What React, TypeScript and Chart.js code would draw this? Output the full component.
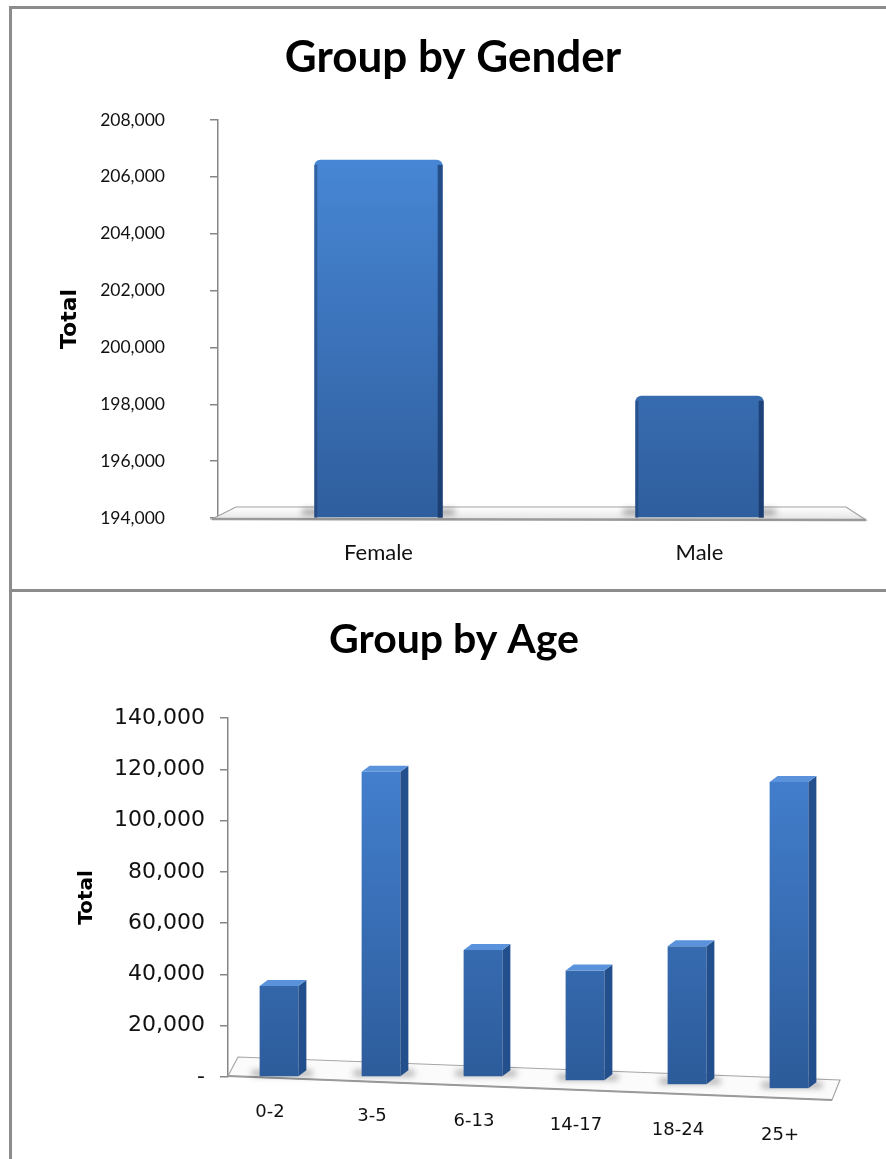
import React, { useEffect, useRef } from "react";
import { Chart, registerables } from "chart.js";

Chart.register(...registerables);

// ---------- data ----------
const GENDER_TITLE = "Group by Gender";
const GENDER_LABELS = ["Female", "Male"];
const GENDER_TOTALS = [206600, 198300];
const GENDER_Y_MIN = 194000;
const GENDER_Y_MAX = 208000;
const GENDER_Y_STEP = 2000;

const AGE_TITLE = "Group by Age";
const AGE_LABELS = ["0-2", "3-5", "6-13", "14-17", "18-24", "25+"];
const AGE_TOTALS = [35500, 119000, 49500, 41500, 51000, 115000];
const AGE_Y_MIN = 0;
const AGE_Y_MAX = 140000;
const AGE_Y_STEP = 20000;

const Y_TITLE = "Total";

// ---------- styles ----------
const AXIS_GRAY = "#868686";
const TEXT = "#111";
const AGE_TOP = "#4685d6";
const AGE_BOTTOM = "#2d5c9b";

function barGradient(c: any, top: string, bottom: string) {
  const chart = c.chart;
  const ca = chart.chartArea;
  if (!ca) return bottom;
  const g = chart.ctx.createLinearGradient(0, ca.top, 0, ca.bottom);
  g.addColorStop(0, top);
  g.addColorStop(1, bottom);
  return g;
}

const fmt = (v: any) => Number(v).toLocaleString("en-US");

// floor + bar decorations for the gender chart
const genderDeco = {
  id: "genderDeco",
  beforeDatasetsDraw(chart: any) {
    const { ctx, chartArea: ca } = chart;
    const b = ca.bottom;
    ctx.save();
    ctx.beginPath();
    ctx.moveTo(ca.left - 6, b + 1);
    ctx.lineTo(ca.left + 18, b - 11);
    ctx.lineTo(ca.right - 14, b - 11);
    ctx.lineTo(ca.right + 6, b + 2);
    ctx.closePath();
    const g = ctx.createLinearGradient(0, b - 11, 0, b + 2);
    g.addColorStop(0, "#ffffff");
    g.addColorStop(1, "#e4e4e4");
    ctx.fillStyle = g;
    ctx.fill();
    ctx.strokeStyle = "#a2a2a2";
    ctx.lineWidth = 1.2;
    ctx.stroke();
    ctx.beginPath();
    ctx.moveTo(ca.left - 6, b + 1);
    ctx.lineTo(ca.right + 6, b + 2);
    ctx.lineWidth = 2.5;
    ctx.strokeStyle = "#9a9a9a";
    ctx.stroke();
    const meta = chart.getDatasetMeta(0);
    ctx.filter = "blur(3px)";
    meta.data.forEach((bar: any) => {
      const { x, width } = bar.getProps(["x", "width"], true);
      ctx.fillStyle = "rgba(0,0,0,0.35)";
      ctx.fillRect(x - width / 2 - 12, b - 9, width + 24, 6);
    });
    ctx.filter = "none";
    ctx.restore();
  },
  afterDatasetsDraw(chart: any) {
    const { ctx, chartArea: ca } = chart;
    const meta = chart.getDatasetMeta(0);
    ctx.save();
    meta.data.forEach((bar: any) => {
      const { x, y, width } = bar.getProps(["x", "y", "width"], true);
      const base = ca.bottom;
      const l = x - width / 2;
      const r = x + width / 2;
      ctx.fillStyle = "rgba(25,55,105,0.45)";
      ctx.fillRect(l, y + 5, 3, base - y - 5);
      ctx.fillStyle = "rgba(15,40,85,0.6)";
      ctx.fillRect(r - 5, y + 5, 5, base - y - 5);
    });
    ctx.restore();
  },
};

// 3D floor, side faces and sloped labels for the age chart
const AGE_DX = 8;
const AGE_DY = 6;
function floorMid(ca: any, x: number) {
  const x0 = ca.left + 5;
  const x1 = ca.right - 4;
  const y0 = ca.bottom - 10.5;
  const y1 = ca.bottom + 13;
  return y0 + ((x - x0) * (y1 - y0)) / (x1 - x0);
}
const ageDeco = {
  id: "ageDeco",
  beforeDatasetsDraw(chart: any) {
    const { ctx, chartArea: ca } = chart;
    const b = ca.bottom;
    ctx.save();
    ctx.beginPath();
    ctx.moveTo(ca.left, b - 1);
    ctx.lineTo(ca.left + 10, b - 20);
    ctx.lineTo(ca.right, b + 3);
    ctx.lineTo(ca.right - 8, b + 23);
    ctx.closePath();
    ctx.fillStyle = "#fbfbfb";
    ctx.fill();
    ctx.strokeStyle = "#a6a6a6";
    ctx.lineWidth = 1.2;
    ctx.stroke();
    ctx.beginPath();
    ctx.moveTo(ca.left, b - 1);
    ctx.lineTo(ca.right - 8, b + 23);
    ctx.lineWidth = 2;
    ctx.strokeStyle = "#9a9a9a";
    ctx.stroke();
    const meta = chart.getDatasetMeta(0);
    ctx.filter = "blur(3px)";
    meta.data.forEach((bar: any) => {
      const { x, base, width } = bar.getProps(["x", "base", "width"], true);
      const fb = Math.max(base, floorMid(ca, x));
      ctx.fillStyle = "rgba(0,0,0,0.3)";
      ctx.fillRect(x - width / 2 - 8, fb - 6, width + 22, 6);
    });
    ctx.filter = "none";
    ctx.restore();
  },
  afterDatasetsDraw(chart: any) {
    const { ctx, chartArea: ca } = chart;
    const meta = chart.getDatasetMeta(0);
    ctx.save();
    meta.data.forEach((bar: any) => {
      const { x, y, base, width } = bar.getProps(["x", "y", "base", "width"], true);
      const l = x - width / 2;
      const r = x + width / 2;
      const fb = Math.max(base, floorMid(ca, x));
      if (fb > base) {
        ctx.fillStyle = AGE_BOTTOM;
        ctx.fillRect(l, base - 1, width, fb - base + 1);
      }
      ctx.beginPath();
      ctx.moveTo(r, y);
      ctx.lineTo(r + AGE_DX, y - AGE_DY);
      ctx.lineTo(r + AGE_DX, fb - AGE_DY);
      ctx.lineTo(r, fb);
      ctx.closePath();
      ctx.fillStyle = "#23508c";
      ctx.fill();
      ctx.beginPath();
      ctx.moveTo(l, y);
      ctx.lineTo(l + AGE_DX, y - AGE_DY);
      ctx.lineTo(r + AGE_DX, y - AGE_DY);
      ctx.lineTo(r, y);
      ctx.closePath();
      ctx.fillStyle = "#5a92dc";
      ctx.fill();
    });
    ctx.restore();
  },
  afterDraw(chart: any) {
    const { ctx, chartArea: ca } = chart;
    const xs = chart.scales.x;
    ctx.save();
    ctx.font = "18px 'DejaVu Sans'";
    ctx.fillStyle = TEXT;
    ctx.textAlign = "center";
    ctx.textBaseline = "middle";
    AGE_LABELS.forEach((lab, i) => {
      ctx.fillText(lab, xs.getPixelForValue(i) - 9, ca.bottom + 35 + i * 4.6);
    });
    ctx.restore();
  },
};

function GenderChart() {
  const ref = useRef<HTMLCanvasElement>(null);
  useEffect(() => {
    const chart = new Chart(ref.current!, {
      type: "bar",
      data: {
        labels: GENDER_LABELS,
        datasets: [
          {
            data: GENDER_TOTALS,
            base: GENDER_Y_MIN,
            backgroundColor: (c: any) => barGradient(c, "#4a8bdb", "#2f5e9d"),
            borderRadius: { topLeft: 6, topRight: 6, bottomLeft: 0, bottomRight: 0 },
            borderSkipped: "bottom",
            barPercentage: 0.4,
            categoryPercentage: 1,
          } as any,
        ],
      },
      options: {
        animation: false,
        responsive: true,
        maintainAspectRatio: false,
        layout: { padding: { left: 34, right: 26, top: 0, bottom: 0 } },
        plugins: {
          legend: { display: false },
          tooltip: { enabled: false },
          title: {
            display: true,
            text: GENDER_TITLE,
            color: "#000",
            font: { family: "Lato", size: 44, weight: "bold", lineHeight: 1.2 },
            padding: { top: 22.6, bottom: 35.6 },
          },
        },
        scales: {
          x: {
            afterFit: (s: any) => {
              s.height = 71;
            },
            grid: { display: false, drawTicks: false },
            border: { display: false },
            ticks: { color: TEXT, font: { family: "Lato", size: 22 }, padding: 22 },
          },
          y: {
            min: GENDER_Y_MIN,
            max: GENDER_Y_MAX,
            afterFit: (s: any) => {
              s.width = 172;
            },
            grid: { drawOnChartArea: false, color: AXIS_GRAY, tickLength: 8, lineWidth: 1.5 },
            border: { display: true, color: AXIS_GRAY, width: 1.5 },
            ticks: {
              stepSize: GENDER_Y_STEP,
              color: TEXT,
              padding: 45,
              font: { family: "Lato", size: 17.5 },
              callback: (v: any) => fmt(v),
            },
            title: {
              display: true,
              text: Y_TITLE,
              color: "#000",
              font: { family: "DejaVu Sans", size: 22, weight: "bold", lineHeight: 1.2 },
              padding: { top: 11, bottom: 0 },
            },
          },
        },
      },
      plugins: [genderDeco],
    });
    return () => chart.destroy();
  }, []);
  return <canvas ref={ref} />;
}

function AgeChart() {
  const ref = useRef<HTMLCanvasElement>(null);
  useEffect(() => {
    const chart = new Chart(ref.current!, {
      type: "bar",
      data: {
        labels: AGE_LABELS,
        datasets: [
          {
            data: AGE_TOTALS,
            backgroundColor: (c: any) => barGradient(c, AGE_TOP, AGE_BOTTOM),
            barPercentage: 0.38,
            categoryPercentage: 1,
          },
        ],
      },
      options: {
        animation: false,
        responsive: true,
        maintainAspectRatio: false,
        layout: { padding: { left: 56, right: 46, top: 0, bottom: 0 } },
        plugins: {
          legend: { display: false },
          tooltip: { enabled: false },
          title: {
            display: true,
            text: AGE_TITLE,
            color: "#000",
            font: { family: "Lato", size: 41, weight: "bold", lineHeight: 1.2 },
            padding: { top: 23.4, bottom: 53.4 },
          },
        },
        scales: {
          x: {
            afterFit: (s: any) => {
              s.height = 82;
            },
            grid: { display: false, drawTicks: false },
            border: { display: false },
            ticks: { display: false },
          },
          y: {
            min: AGE_Y_MIN,
            max: AGE_Y_MAX,
            afterFit: (s: any) => {
              s.width = 160;
            },
            grid: { drawOnChartArea: false, color: AXIS_GRAY, tickLength: 8, lineWidth: 1.5 },
            border: { display: true, color: AXIS_GRAY, width: 1.5 },
            ticks: {
              stepSize: AGE_Y_STEP,
              color: TEXT,
              padding: 15,
              font: { family: "DejaVu Sans", size: 22 },
              callback: (v: any) => (Number(v) === 0 ? "-" : fmt(v)),
            },
            title: {
              display: true,
              text: Y_TITLE,
              color: "#000",
              font: { family: "DejaVu Sans", size: 20, weight: "bold", lineHeight: 1.2 },
              padding: { top: 7, bottom: 0 },
            },
          },
        },
      },
      plugins: [ageDeco],
    });
    return () => chart.destroy();
  }, []);
  return <canvas ref={ref} />;
}

export default function App() {
  const border = "#8c8c8c";
  return (
    <div
      style={{
        position: "absolute",
        left: 0,
        top: 0,
        width: 886,
        height: 1159,
        overflow: "hidden",
        background: "#fff",
      }}
    >
      <div style={{ position: "absolute", left: 9, top: 6, width: 3, height: 1153, background: border }} />
      <div style={{ position: "absolute", left: 9, top: 6, width: 877, height: 3, background: border }} />
      <div style={{ position: "absolute", left: 9, top: 589, width: 877, height: 3, background: border }} />
      <div style={{ position: "absolute", left: 12, top: 9, width: 874, height: 580 }}>
        <GenderChart />
      </div>
      <div style={{ position: "absolute", left: 12, top: 592, width: 874, height: 567 }}>
        <AgeChart />
      </div>
    </div>
  );
}
